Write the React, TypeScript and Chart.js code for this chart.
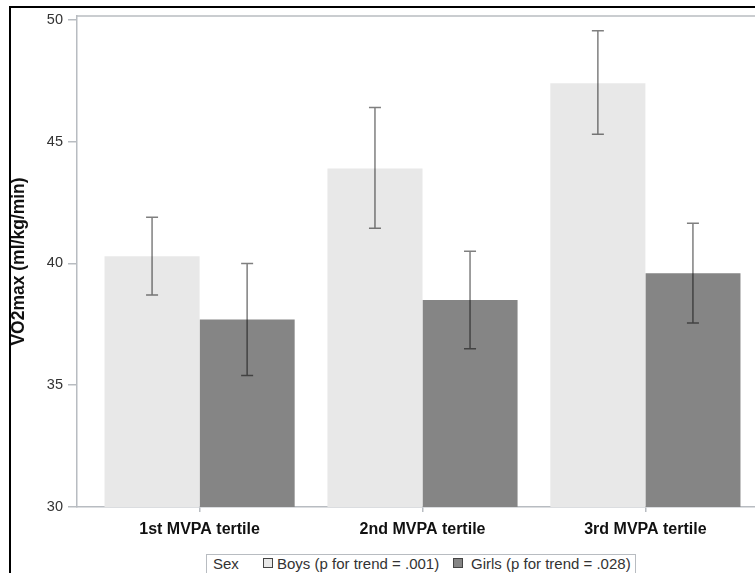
import React, { useEffect, useRef } from "react";
import { Chart, registerables } from "chart.js";

Chart.register(...registerables);

const categories = ["1st MVPA tertile", "2nd MVPA tertile", "3rd MVPA tertile"];
const boys = [40.3, 43.9, 47.4];
const boysLow = [38.7, 41.45, 45.3];
const boysHigh = [41.9, 46.4, 49.55];
const girls = [37.7, 38.5, 39.6];
const girlsLow = [35.4, 36.5, 37.55];
const girlsHigh = [40.0, 40.5, 41.65];
const yTicks = [30, 35, 40, 45, 50];
const legendTitle = "Sex";
const boysLabel = "Boys (p for trend = .001)";
const girlsLabel = "Girls (p for trend = .028)";

const AXIS_GRAY = "#b8bcc1";
const FONT = "Arial, 'Liberation Sans', Helvetica, sans-serif";

const errorBarPlugin = {
  id: "errorBars",
  afterDatasetsDraw(chart: any) {
    const ctx = chart.ctx;
    const ys = chart.scales.y;
    const ranges = [
      [boysLow, boysHigh],
      [girlsLow, girlsHigh],
    ];
    chart.data.datasets.forEach((_ds: any, di: number) => {
      const meta = chart.getDatasetMeta(di);
      meta.data.forEach((bar: any, i: number) => {
        const x = bar.x;
        const yl = ys.getPixelForValue(ranges[di][0][i]);
        const yh = ys.getPixelForValue(ranges[di][1][i]);
        ctx.save();
        ctx.strokeStyle = "rgba(0,0,0,0.5)";
        ctx.lineWidth = 1.5;
        ctx.beginPath();
        ctx.moveTo(x, yl);
        ctx.lineTo(x, yh);
        ctx.moveTo(x - 6, yl);
        ctx.lineTo(x + 6, yl);
        ctx.moveTo(x - 6, yh);
        ctx.lineTo(x + 6, yh);
        ctx.stroke();
        ctx.restore();
      });
    });
  },
};

const frameTopPlugin = {
  id: "frameTop",
  beforeDatasetsDraw(chart: any) {
    const { ctx, chartArea } = chart;
    ctx.save();
    ctx.strokeStyle = AXIS_GRAY;
    ctx.lineWidth = 1.5;
    ctx.beginPath();
    ctx.moveTo(chartArea.left, chartArea.top);
    ctx.lineTo(chartArea.right, chartArea.top);
    ctx.stroke();
    ctx.restore();
  },
};

function Swatch({ color, left }: { color: string; left: number }) {
  return (
    <div
      style={{
        position: "absolute",
        left,
        top: 3,
        width: 8,
        height: 8,
        background: color,
        border: "1px solid #444",
      }}
    />
  );
}

export default function App() {
  const canvasRef = useRef<HTMLCanvasElement | null>(null);

  useEffect(() => {
    if (!canvasRef.current) return;
    const chart = new Chart(canvasRef.current, {
      type: "bar",
      data: {
        datasets: [
          {
            label: boysLabel,
            data: boys.map((v, i) => ({ x: i, y: v })),
            backgroundColor: "#e8e8e8",
            borderWidth: 0,
          },
          {
            label: girlsLabel,
            data: girls.map((v, i) => ({ x: i, y: v })),
            backgroundColor: "#858585",
            borderWidth: 0,
          },
        ],
      },
      options: {
        responsive: false,
        animation: false,
        layout: { padding: { left: 0, top: 16, right: 32, bottom: 0 } },
        plugins: {
          legend: { display: false },
          tooltip: { enabled: false },
        },
        datasets: {
          bar: { categoryPercentage: 0.853, barPercentage: 1 },
        },
        scales: {
          x: {
            type: "linear",
            min: -0.55,
            max: 2.55,
            offset: false,
            afterBuildTicks: (scale: any) => {
              scale.ticks = categories.map((_c, i) => ({ value: i }));
            },
            afterFit: (scale: any) => {
              scale.height = 40;
            },
            ticks: {
              callback: (v: any) => categories[Number(v)] ?? "",
              font: { family: FONT, size: 16, weight: "bold" },
              color: "#111",
              padding: 8,
              maxRotation: 0,
            },
            grid: {
              offset: false,
              drawOnChartArea: false,
              drawTicks: true,
              tickLength: 5,
              color: AXIS_GRAY,
              lineWidth: 1.5,
            },
            border: { display: true, color: AXIS_GRAY, width: 1.5 },
          },
          y: {
            min: 30,
            max: 50.16,
            afterBuildTicks: (scale: any) => {
              scale.ticks = yTicks.map((v) => ({ value: v }));
            },
            afterFit: (scale: any) => {
              scale.width = 77;
            },
            ticks: {
              font: { family: FONT, size: 14.5 },
              color: "#333",
              padding: 5,
            },
            grid: {
              drawOnChartArea: false,
              drawTicks: true,
              tickLength: 9,
              color: AXIS_GRAY,
              lineWidth: 1.5,
            },
            border: { display: true, color: AXIS_GRAY, width: 1.5 },
            title: {
              display: true,
              text: "VO2max (ml/kg/min)",
              font: { family: FONT, size: 17.5, weight: "bold" },
              color: "#111",
              padding: { top: 9, bottom: 0 },
            },
          },
        },
      },
      plugins: [frameTopPlugin, errorBarPlugin],
    } as any);
    return () => chart.destroy();
  }, []);

  return (
    <div
      style={{
        position: "fixed",
        left: 0,
        top: 0,
        width: 755,
        height: 573,
        overflow: "hidden",
        background: "#fff",
      }}
    >
      <div
        style={{
          position: "absolute",
          left: 9,
          top: 6,
          width: 800,
          height: 600,
          borderLeft: "2px solid #000",
          borderTop: "2px solid #000",
        }}
      />
      <canvas
        ref={canvasRef}
        width={800}
        height={547}
        style={{ position: "absolute", left: 0, top: 0, width: 800, height: 547 }}
      />
      <div
        style={{
          position: "absolute",
          left: 206,
          top: 554,
          width: 428,
          height: 30,
          border: "1px solid #b8bcc1",
          fontFamily: FONT,
          fontSize: 15,
          color: "#333",
          lineHeight: "18px",
          whiteSpace: "nowrap",
        }}
      >
        <span style={{ position: "absolute", left: 6, top: 0 }}>{legendTitle}</span>
        <Swatch color="#e8e8e8" left={56} />
        <span style={{ position: "absolute", left: 70, top: 0 }}>{boysLabel}</span>
        <Swatch color="#858585" left={246} />
        <span style={{ position: "absolute", left: 264, top: 0 }}>{girlsLabel}</span>
      </div>
    </div>
  );
}
